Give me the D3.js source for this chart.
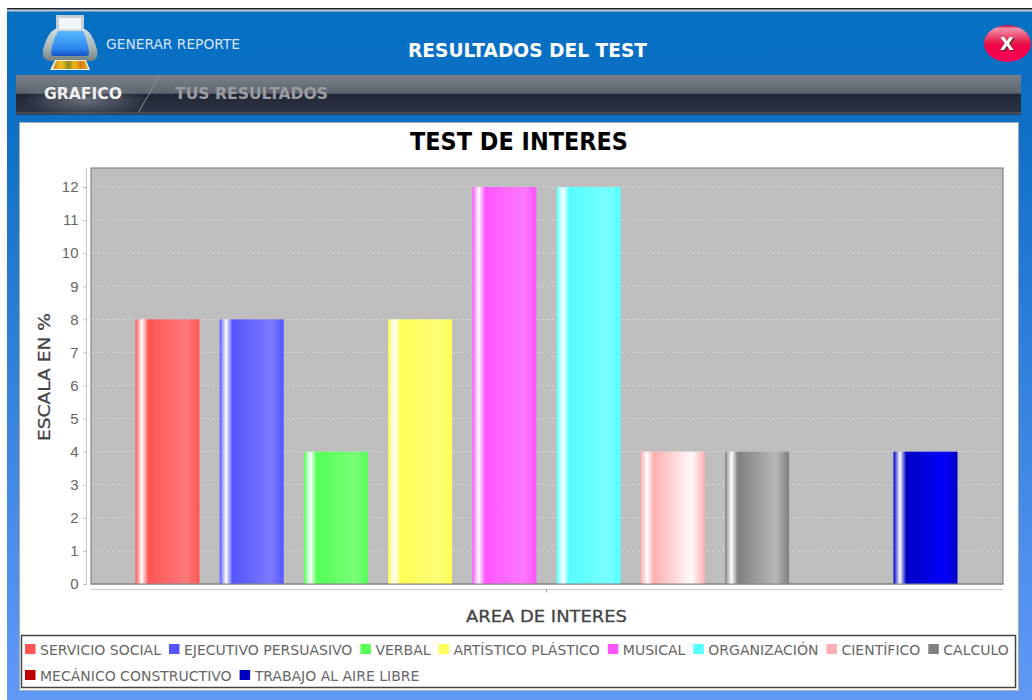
<!DOCTYPE html>
<html>
<head>
<meta charset="utf-8">
<title>Resultados del test</title>
<script src="https://cdnjs.cloudflare.com/ajax/libs/d3/7.8.5/d3.min.js"></script>
<style>
html, body { margin: 0; padding: 0; background: #fff; overflow: hidden; }
svg { display: block; }
</style>
</head>
<body>
<div id="chart"></div>
<script>
var areas = ["SERVICIO SOCIAL", "EJECUTIVO PERSUASIVO", "VERBAL", "ARTÍSTICO PLÁSTICO", "MUSICAL",
    "ORGANIZACIÓN", "CIENTÍFICO", "CALCULO", "MECÁNICO CONSTRUCTIVO", "TRABAJO AL AIRE LIBRE"];
var scores = [8, 8, 4, 8, 12, 12, 4, 4, 0, 4];
var colors = ["#ff5555", "#5555ff", "#55ff55", "#ffff55", "#ff55ff",
    "#55ffff", "#ffafaf", "#808080", "#c00000", "#0000c0"];
var yTicks = [0, 1, 2, 3, 4, 5, 6, 7, 8, 9, 10, 11, 12];

var width = 1032, height = 700;
var plot = {left: 91, right: 1003, top: 168, bottom: 584};

var svg = d3.select("#chart").append("svg").attr("width", width).attr("height", height)
    .attr("font-family", "'DejaVu Sans', sans-serif");
var defs = svg.append("defs");

function linear(id, stops, horizontal) {
    var g = defs.append("linearGradient").attr("id", id)
        .attr("x1", 0).attr("y1", 0)
        .attr("x2", horizontal ? 1 : 0).attr("y2", horizontal ? 0 : 1);
    stops.forEach(function(s) {
        g.append("stop").attr("offset", s[0]).attr("stop-color", s[1]);
    });
}

linear("windowBg", [[0, "#0470c2"], [0.17, "#0f6fc6"], [0.5, "#2f80da"], [0.93, "#5a96f5"], [1, "#5f98f6"]]);
linear("tabBar", [[0, "#7b818b"], [0.46, "#5e646e"], [0.47, "#202636"], [0.92, "#2e3344"], [0.95, "#50555f"], [1, "#23324f"]]);
linear("closeBtn", [[0, "#b00038"], [0.1, "#f590a8"], [0.45, "#e8204f"], [0.6, "#f00048"], [1, "#ff0058"]]);
linear("printerBody", [[0, "#d4dee0"], [0.6, "#a4b2b4"], [1, "#70807e"]]);
linear("printerBlue", [[0, "#58b8ff"], [0.7, "#2c88f0"], [1, "#1050c0"]]);
linear("printerPhoto", [[0, "#c88a18"], [0.25, "#f0c020"], [0.45, "#8a8a20"], [0.6, "#f0b818"], [0.8, "#d87c10"], [1, "#e8b020"]], true);

var tabGlow = defs.append("radialGradient").attr("id", "tabGlow");
tabGlow.append("stop").attr("offset", 0).attr("stop-color", "#a0a4ac").attr("stop-opacity", 0.55);
tabGlow.append("stop").attr("offset", 1).attr("stop-color", "#a0a4ac").attr("stop-opacity", 0);

// same bands as the java bar painter: highlight near the left, brighter towards the right
colors.forEach(function(c, i) {
    var bright = d3.rgb(c).brighter(1).formatHex();
    linear("bar" + i, [[0, c], [0.1, "#ffffff"], [0.2, c], [0.8, bright], [1, c]], true);
});

// window
svg.append("rect").attr("x", 7).attr("y", 8).attr("width", width - 7).attr("height", height - 8).attr("fill", "url(#windowBg)");
svg.append("rect").attr("x", 7).attr("y", 8).attr("width", width - 7).attr("height", 1.5).attr("fill", "#222");
svg.append("rect").attr("x", 7).attr("y", 9.5).attr("width", width - 7).attr("height", 2).attr("fill", "#c4c8cc");

// printer icon
var printer = svg.append("g");
printer.append("rect").attr("x", 56).attr("y", 15).attr("width", 28).attr("height", 18).attr("fill", "#c4d0d4");
printer.append("rect").attr("x", 59).attr("y", 18).attr("width", 22).attr("height", 14).attr("fill", "#f2f6f8");
printer.append("path").attr("fill", "url(#printerBody)")
    .attr("d", "M55 29 H85 Q92 33 96 46 Q100 58 93 61 H49 Q40 58 44 46 Q48 33 55 29 Z");
printer.append("path").attr("fill", "url(#printerBlue)")
    .attr("d", "M58 31 H83 Q88 42 89 53 Q89 56 86 56 H54 Q51 56 51 53 Q52 42 58 31 Z");
printer.append("path").attr("fill", "#f4f0e0").attr("d", "M55 60 H86 L90 70 H50 Z");
printer.append("path").attr("fill", "url(#printerPhoto)").attr("d", "M56 61 H85 L88 69 H53 Z");

svg.append("text").attr("x", 106).attr("y", 49).attr("font-size", 13.5).attr("fill", "#d6e4ff")
    .attr("textLength", 134).attr("lengthAdjust", "spacingAndGlyphs").text("GENERAR REPORTE");
svg.append("text").attr("x", 527.5).attr("y", 57).attr("text-anchor", "middle").attr("font-size", 19)
    .attr("font-weight", "bold").attr("fill", "#fff")
    .attr("textLength", 239).attr("lengthAdjust", "spacingAndGlyphs").text("RESULTADOS DEL TEST");

// close button
svg.append("ellipse").attr("cx", 1007.5).attr("cy", 43.5).attr("rx", 23.5).attr("ry", 18.5).attr("fill", "url(#closeBtn)");
svg.append("text").attr("x", 1008).attr("y", 50.5).attr("text-anchor", "middle").attr("font-size", 18)
    .attr("font-weight", "bold").attr("fill", "#333").text("X");
svg.append("text").attr("x", 1007).attr("y", 50).attr("text-anchor", "middle").attr("font-size", 18)
    .attr("font-weight", "bold").attr("fill", "#fff").text("X");

// tabs
svg.append("rect").attr("x", 16).attr("y", 75).attr("width", 1005).attr("height", 40).attr("fill", "url(#tabBar)");
svg.append("ellipse").attr("cx", 85).attr("cy", 100).attr("rx", 62).attr("ry", 16).attr("fill", "url(#tabGlow)");
svg.append("line").attr("x1", 160).attr("y1", 75).attr("x2", 138).attr("y2", 113).attr("stroke", "#8a8f98").attr("stroke-width", 1);
svg.append("text").attr("x", 44).attr("y", 99).attr("font-size", 15).attr("font-weight", "bold").attr("fill", "#f0f0f0")
    .attr("textLength", 78).attr("lengthAdjust", "spacingAndGlyphs").text("GRAFICO");
svg.append("text").attr("x", 175).attr("y", 99).attr("font-size", 15).attr("font-weight", "bold").attr("fill", "#9a9ca0")
    .attr("textLength", 153).attr("lengthAdjust", "spacingAndGlyphs").text("TUS RESULTADOS");

// chart panel
svg.append("rect").attr("x", 19.5).attr("y", 122.5).attr("width", 999).attr("height", 568)
    .attr("fill", "#fff").attr("stroke", "#a8acb0");
svg.append("text").attr("x", 519).attr("y", 150).attr("text-anchor", "middle").attr("font-size", 24)
    .attr("font-weight", "bold").attr("fill", "#000")
    .attr("textLength", 218).attr("lengthAdjust", "spacingAndGlyphs").text("TEST DE INTERES");

var y = d3.scaleLinear().domain([0, 12]).range([plot.bottom, 187]);
var x = d3.scaleBand().domain(areas).range([135.5, 957.5]).paddingInner(0.24);

svg.append("rect").attr("x", plot.left).attr("y", plot.top)
    .attr("width", plot.right - plot.left).attr("height", plot.bottom - plot.top)
    .attr("fill", "#bebebe").attr("stroke", "#868686").attr("stroke-width", 1.2);

svg.append("g").selectAll("line").data(yTicks.slice(1)).enter().append("line")
    .attr("x1", plot.left + 1).attr("x2", plot.right - 1)
    .attr("y1", function(d) { return y(d); }).attr("y2", function(d) { return y(d); })
    .attr("stroke", "#d6d6d6").attr("stroke-dasharray", "2.5 2.5");

svg.append("g").selectAll("rect").data(scores).enter().append("rect")
    .attr("x", function(d, i) { return x(areas[i]); })
    .attr("y", function(d) { return y(d); })
    .attr("width", x.bandwidth())
    .attr("height", function(d) { return y(0) - y(d); })
    .attr("fill", function(d, i) { return "url(#bar" + i + ")"; });

// redraw bottom edge over the bars
svg.append("line").attr("x1", plot.left).attr("x2", plot.right).attr("y1", plot.bottom).attr("y2", plot.bottom)
    .attr("stroke", "#868686").attr("stroke-width", 1.2);

var yAxis = d3.axisLeft(y).tickValues(yTicks).tickSize(3).tickPadding(5);
var yG = svg.append("g").attr("transform", "translate(86.5,0)").call(yAxis);
yG.select(".domain").remove();
yG.append("line").attr("y1", plot.top).attr("y2", plot.bottom).attr("stroke", "#c8c8c8");
yG.selectAll(".tick line").attr("stroke", "#b0b0b0");
yG.selectAll(".tick text").attr("font-size", 15).attr("font-family", null).attr("fill", "#666");

var xAxis = d3.axisBottom(d3.scalePoint().domain(["AREA DE INTERES"]).range([546, 546]).padding(0)).tickSize(3).tickFormat("");
var xG = svg.append("g").attr("transform", "translate(0,589.5)").call(xAxis);
xG.select(".domain").remove();
xG.append("line").attr("x1", plot.left).attr("x2", plot.right).attr("stroke", "#c8c8c8");
xG.selectAll(".tick line").attr("stroke", "#a0a0a0");

svg.append("text").attr("x", 546.5).attr("y", 622).attr("text-anchor", "middle").attr("font-size", 16)
    .attr("fill", "#444").attr("stroke", "#444").attr("stroke-width", 0.3)
    .attr("textLength", 161).attr("lengthAdjust", "spacingAndGlyphs").text("AREA DE INTERES");
svg.append("text").attr("transform", "translate(50,377) rotate(-90)").attr("text-anchor", "middle").attr("font-size", 16)
    .attr("fill", "#444").attr("stroke", "#444").attr("stroke-width", 0.3)
    .attr("textLength", 128).attr("lengthAdjust", "spacingAndGlyphs").text("ESCALA EN %");

// legend
svg.append("rect").attr("x", 21.5).attr("y", 635.5).attr("width", 994).attr("height", 52)
    .attr("fill", "#fff").attr("stroke", "#444").attr("stroke-width", 1.5);

var cx = 25, row = 0;
areas.forEach(function(name, i) {
    var label = svg.append("text").attr("font-size", 14).attr("fill", "#666").text(name);
    var w = label.node().getComputedTextLength();
    if (cx + 15 + w > 1012) { cx = 25; row++; }
    var cy = 649 + row * 26;
    svg.append("rect").attr("x", cx).attr("y", cy - 5).attr("width", 10.5).attr("height", 10).attr("fill", colors[i]);
    label.attr("x", cx + 15).attr("y", cy + 5.5);
    cx += 15 + w + 8;
});
</script>
</body>
</html>
